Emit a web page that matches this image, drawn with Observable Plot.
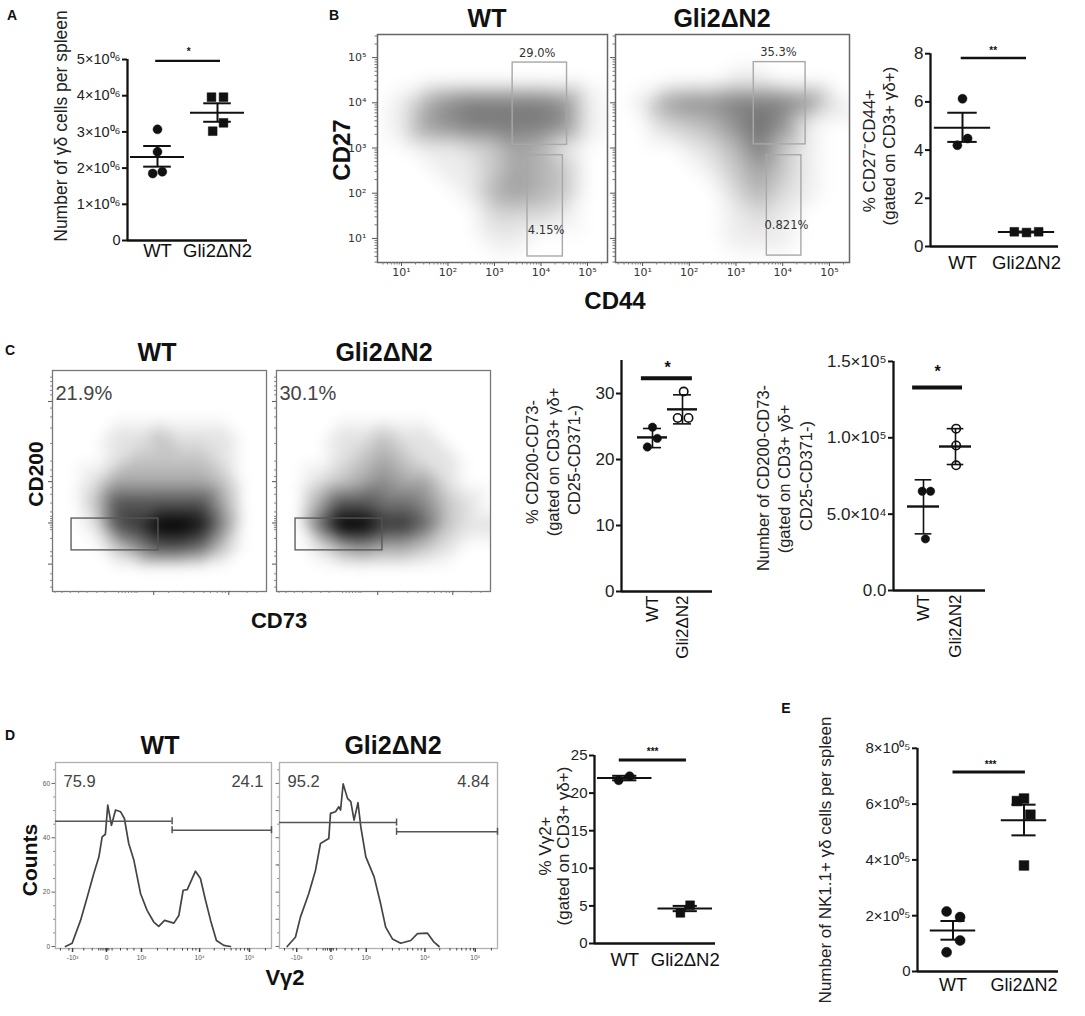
<!DOCTYPE html>
<html><head><meta charset="utf-8">
<script src="https://cdn.jsdelivr.net/npm/d3@7"></script>
<script src="https://cdn.jsdelivr.net/npm/@observablehq/plot@0.6"></script>
<style>
html,body{margin:0;padding:0;background:#fff;overflow:hidden;}
#fig{position:relative;width:1085px;height:1016px;overflow:hidden;background:#fff;font-family:"Liberation Sans",Arial,sans-serif;color:#111;}
.lbl{position:absolute;white-space:nowrap;line-height:1;}
</style></head>
<body><div id="fig"></div>
<script>
// ---------------- DATA ----------------
const groups = ["WT", "Gli2ΔN2"];

// Panel A: number of γδ cells per spleen
const aWT = [3.07e6, 2.45e6, 1.85e6, 1.90e6];
const aWTdx = [0, 0, -0.08, 0.08];
const aKO = [3.96e6, 3.96e6, 3.25e6, 3.02e6];
const aKOdx = [-0.1, 0.1, 0.1, -0.08];
const aMean = [2.31e6, 3.53e6];
const aLo = [2.04e6, 3.28e6];
const aHi = [2.61e6, 3.79e6];
const aSig = 4.96e6;
const aTicks = [0, 1e6, 2e6, 3e6, 4e6, 5e6];
const aTickText = ["0", "1×10⁰⁶", "2×10⁰⁶", "3×10⁰⁶", "4×10⁰⁶", "5×10⁰⁶"];

// Panel B right: % CD27-CD44+
const bWT = [6.13, 4.20, 4.48];
const bWTdx = [0, -0.08, 0.08];
const bKO = [0.61, 0.58, 0.61];
const bKOdx = [-0.19, 0, 0.19];
const bMean = [4.93, 0.60];
const bLo = [4.34, 0.58];
const bHi = [5.55, 0.62];
const bSig = 7.82;
const bTicks = [0, 2, 4, 6, 8];
const bTickText = ["0", "2", "4", "6", "8"];

// Panel B flow plots: density read on a half-decade grid (log10 CD44 columns, log10 CD27 rows, top to bottom)
const bCols = [0.5, 1, 1.5, 2, 2.5, 3, 3.5, 4, 4.5, 5, 5.5];
const bRowsY = [5.5, 5, 4.5, 4, 3.5, 3, 2.5, 2, 1.5, 1, 0.5];
const bDensWT = [
  "00000000000",
  "00000000000",
  "00000000000",
  "01467777610",
  "01567777610",
  "00112354100",
  "00011354300",
  "00001454300",
  "00000222100",
  "00000110000",
  "00000000000"];
const bDensKO = [
  "00000000000",
  "00000000000",
  "00000110000",
  "01566777620",
  "00234686100",
  "00012473100",
  "00001353100",
  "00000242100",
  "00000121000",
  "00000111000",
  "00000000000"];
const bGatesWT = [[3.39, 4.56, 3.07, 4.89], [3.71, 4.47, 0.60, 2.84]];
const bGatesKO = [[3.38, 4.49, 3.08, 4.90], [3.66, 4.40, 0.62, 2.84]];
const bLabelsWT = [["29.0%", 3.92, 5.09], ["4.15%", 4.11, 1.18]];
const bLabelsKO = [["35.3%", 3.91, 5.12], ["0.821%", 4.08, 1.29]];
const bDecades = [1, 2, 3, 4, 5];
const bDecadeText = ["10¹", "10²", "10³", "10⁴", "10⁵"];

// Panel C flow plots: density on a 10-unit grid (CD73 columns, CD200 rows top to bottom)
const cCols = [0, 10, 20, 30, 40, 50, 60, 70, 80, 90, 100];
const cRowsY = [100, 90, 80, 70, 60, 50, 40, 30, 20, 10, 0];
const cDensWT = [
  "00000000000",
  "00000000000",
  "00000000000",
  "00011211100",
  "00012222100",
  "00133333200",
  "00266666300",
  "00167998400",
  "00024665200",
  "00000000000",
  "00000000000"];
const cDensKO = [
  "00000000000",
  "00000000000",
  "00000000000",
  "00011211000",
  "00012321100",
  "00123433100",
  "00366554210",
  "00599775211",
  "00134332100",
  "00000000000",
  "00000000000"];
const cGate = [8.9, 49.5, 18.6, 33];
const cPctWT = "21.9%";
const cPctKO = "30.1%";
const cYMajor = [86, 49.7, 31, 12.4];
const cYMinor = [97, 95, 93, 91, 89, 83, 79, 74, 67, 59, 55, 52, 47, 44, 40, 36, 34, 33, 32, 30, 29, 28, 24, 18, 16, 8, 5, 2];
const cXMajor = [47.3, 82.4];
const cXMinor = [1.2, 4.4, 8.3, 12.2, 16.1, 20.7, 24.6, 30.9, 32.5, 34, 35.5, 37, 38.5, 39.5, 54.3, 61.3, 66, 70.7, 73.8, 76.9, 79.3, 80.8, 90.9, 95.6];

// Panel C middle: % CD200-CD73-
const cWT = [24.9, 21.9, 23.2];
const cWTdx = [0, -0.17, 0.16];
const cKO = [30.3, 26.3, 26.3];
const cKOdx = [0.04, -0.16, 0.2];
const cMean = [23.35, 27.6];
const cLo = [21.8, 25.4];
const cHi = [24.7, 29.8];
const cSig = 32.3;
const cTicks = [0, 10, 20, 30];
const cTickText = ["0", "10", "20", "30"];

// Panel C right: number of CD200-CD73-
const c2WT = [65000, 65000, 33800];
const c2WTdx = [-0.04, 0.22, 0.06];
const c2KO = [106000, 95000, 82000];
const c2KOdx = [0.02, 0.02, 0.02];
const c2Mean = [55000, 94300];
const c2Lo = [37100, 82500];
const c2Hi = [72500, 106000];
const c2Sig = 133000;
const c2Ticks = [0, 50000, 100000, 150000];
const c2TickText = ["0.0", "5.0×10⁴", "1.0×10⁵", "1.5×10⁵"];

// Panel D histograms (Vγ2 display units 0-100, counts)
const dWTx = [4.6, 7.7, 11.6, 14.7, 17.7, 20.1, 21.6, 23.1, 24.2, 25.9, 27.8, 30.1, 31.9, 33.9, 36.3, 39.4, 42.4, 45.5, 47.8, 50.5, 54.8, 57.1, 59.1, 61.0, 64.8, 67.1, 69.4, 71.8, 74.5, 77.9, 81.0];
const dWTy = [0, 1.2, 9.6, 18.2, 26.8, 33, 40.3, 41.3, 52, 44.6, 50.2, 49.6, 47.1, 37.9, 31.7, 19.4, 13.3, 9, 7.4, 9.6, 8.6, 11.4, 20.7, 20.9, 27.7, 25, 17.2, 9.6, 2.2, 0.4, 0];
const dKOx = [3.5, 7.3, 9.6, 13.4, 16.5, 18.8, 22.6, 23.4, 25.7, 27.2, 28.0, 29.2, 31.2, 32.7, 34.2, 36.0, 37.3, 39.6, 43.4, 46.4, 48.7, 51.8, 55.6, 60.2, 63.3, 67.9, 70.9, 73.2];
const dKOy = [0, 3.4, 10.8, 19.4, 28, 37.9, 39.7, 49, 49.6, 51.4, 50.2, 59.8, 54.5, 53.3, 46.5, 52.9, 44, 33, 25.6, 15.7, 7.1, 2.8, 1.2, 2.2, 4.7, 4.9, 1.6, 0];
const dGatesWT = [[0, 54, 46.1], [54, 100, 42.8]];
const dGatesKO = [[0, 53.7, 45.6], [53.7, 100, 42.2]];
const dPctWT = ["75.9", "24.1"];
const dPctKO = ["95.2", "4.84"];
const dXMajor = [7.9, 23.6, 39.8, 66.7, 89.8];
const dXMajorText = ["-10³", "0", "10³", "10⁴", "10⁵"];
const dXMinor = [2.3, 6.2, 13.1, 17, 20, 21, 22, 23, 24, 24.7, 26.2, 30.1, 33.2, 36.3, 47.2, 51.8, 54.9, 58.8, 61.1, 63.5, 65, 73.5, 78.2, 81.3, 83.6, 85.6, 87.5, 89, 97.2];
const dYMajor = [0, 20, 40, 60];
const dYMajorText = ["0", "20", "40", "60"];
const dYMinor = [5, 10, 15, 25, 30, 35, 45, 50, 55, 65];

// Panel D right: % Vγ2+
const vWT = [21.7, 22.25];
const vWTdx = [-0.1, 0.08];
const vKO = [4.07, 5.09];
const vKOdx = [-0.08, 0.08];
const vMean = [22.0, 4.65];
const vLo = [21.7, 4.3];
const vHi = [22.3, 5.0];
const vSig = 24.4;
const vTicks = [0, 5, 10, 15, 20, 25];
const vTickText = ["0", "5", "10", "15", "20", "25"];

// Panel E: NK1.1+ γδ cells per spleen
const eWT = [2.15e5, 1.95e5, 1.11e5, 0.69e5];
const eWTdx = [-0.09, 0.1, 0.1, -0.09];
const eKO = [6.11e5, 6.2e5, 5.62e5, 3.8e5];
const eKOdx = [-0.1, 0.0, 0.09, 0.0];
const eMean = [1.47e5, 5.42e5];
const eLo = [1.14e5, 4.88e5];
const eHi = [1.81e5, 5.98e5];
const eSig = 7.15e5;
const eTicks = [0, 2e5, 4e5, 6e5, 8e5];
const eTickText = ["0", "2×10⁰⁵", "4×10⁰⁵", "6×10⁰⁵", "8×10⁰⁵"];

// ---------------- HELPERS ----------------
const fig = document.getElementById("fig");
const ink = "#111";
const SANS = "'Liberation Sans', Arial, sans-serif";

function chart(frame, m, opts) {
  const width = frame.w + m[1] + m[3], height = frame.h + m[0] + m[2];
  const svg = Plot.plot({
    width, height,
    marginTop: m[0], marginRight: m[1], marginBottom: m[2], marginLeft: m[3],
    style: `background:transparent;overflow:visible;max-width:none;font-family:${SANS};color:#111;`,
    ...opts
  });
  const d = document.createElement("div");
  d.style.cssText = `position:absolute;left:${frame.x - m[3]}px;top:${frame.y - m[0]}px;width:${width}px;height:${height}px;`;
  d.appendChild(svg);
  fig.appendChild(d);
}

function label(text, x, y, o = {}) {
  const d = document.createElement("div");
  d.className = "lbl";
  d.textContent = text;
  d.style.left = x + "px";
  d.style.top = y + "px";
  d.style.fontSize = (o.size || 14) + "px";
  d.style.fontWeight = o.weight || "normal";
  d.style.color = o.color || "#111";
  d.style.transform = o.rotate ? "translate(-50%,-50%) rotate(-90deg)" : "translate(-50%,-50%)";
  fig.appendChild(d);
}

function dotPlot(s) {
  const stats = s.mean.map((m, g) => ({g: g + 1, m, lo: s.lo[g], hi: s.hi[g]}));
  const tickText = new Map(s.ticks.map((t, i) => [t, s.tickText[i]]));
  const dots = s.series.map((ser, g) => {
    const pts = ser.values.map((v, i) => ({x: g + 1 + ser.dx[i], y: v}));
    return Plot.dot(pts, {x: "x", y: "y", symbol: ser.symbol, r: ser.symbol === "square" ? s.r * 1.1 : s.r,
      fill: ser.open ? "white" : ink, stroke: ink, strokeWidth: ser.open ? 1.6 : 0.5});
  });
  const xAxis = Plot.axisX({ticks: [1, 2], tickFormat: d => groups[d - 1], tickSize: 0, label: null,
    fontSize: s.labelFont, tickPadding: s.labelPad, ...(s.rotate ? {tickRotate: -90} : {})});
  chart(s.frame, s.margins, {
    x: {type: "linear", domain: s.xDomain},
    y: {type: "linear", domain: s.yDomain},
    marks: [
      ...dots,
      Plot.ruleX(stats, {x: "g", y1: "lo", y2: "hi", stroke: ink, strokeWidth: s.errW}),
      Plot.ruleY(stats, {y: "lo", x1: d => d.g - s.errHW, x2: d => d.g + s.errHW, stroke: ink, strokeWidth: s.errW}),
      Plot.ruleY(stats, {y: "hi", x1: d => d.g - s.errHW, x2: d => d.g + s.errHW, stroke: ink, strokeWidth: s.errW}),
      Plot.ruleY(stats, {y: "m", x1: d => d.g - s.meanHW, x2: d => d.g + s.meanHW, stroke: ink, strokeWidth: s.meanW}),
      Plot.ruleY([s.sig.y], {x1: s.sig.x1, x2: s.sig.x2, stroke: ink, strokeWidth: s.sig.w}),
      Plot.text([s.sig.text], {x: s.sig.tx, y: s.sig.ty, text: d => d, fontSize: s.sig.size, fontWeight: "bold", fill: ink}),
      Plot.ruleX([s.xDomain[0]], {y1: 0, y2: s.yTop, stroke: ink, strokeWidth: 2.3}),
      Plot.ruleY([0], {x1: s.xDomain[0], x2: s.xDomain[1], stroke: ink, strokeWidth: 2.3}),
      Plot.axisY({ticks: s.ticks, tickFormat: d => tickText.get(d), tickSize: 5, strokeWidth: 2, tickPadding: 2, fontSize: s.tickFont, fill: "#222", label: null}),
      xAxis
    ]
  });
}

function densityMark(rows, cols, rowsY, tx, ty, blur) {
  const grid = [];
  rows.forEach((row, i) => [...row].forEach((c, j) => grid.push({gx: cols[j], gy: rowsY[i], v: +c})));
  if (typeof Plot.raster === "function") {
    return Plot.raster(grid, {x: d => tx(d.gx), y: d => ty(d.gy), fill: "v", interpolate: "barycentric", blur});
  }
  return Plot.dot(grid, {x: d => tx(d.gx), y: d => ty(d.gy), fill: "v", r: 8});
}

function flowB(frame, xDomExp, rows, gates, labels, showY) {
  const p = e => 10 ** e;
  const minors = [];
  for (let k = 0; k <= 5; k++) for (let m = 2; m <= 9; m++) minors.push(m * 10 ** k);
  const dText = new Map(bDecades.map((e, i) => [p(e), bDecadeText[i]]));
  chart(frame, [10, 10, 30, 50], {
    x: {type: "log", domain: [p(xDomExp[0]), p(xDomExp[1])]},
    y: {type: "log", domain: [p(0.467), p(5.511)]},
    color: {type: "linear", domain: [0, 8], range: ["#ffffff", "#6a6a6a"]},
    marks: [
      densityMark(rows, bCols, bRowsY, p, p, 7),
      Plot.rect(gates, {x1: d => p(d[0]), x2: d => p(d[1]), y1: d => p(d[2]), y2: d => p(d[3]), fill: "none", stroke: "#a8a8a8", strokeWidth: 1.4}),
      Plot.text(labels, {x: d => p(d[1]), y: d => p(d[2]), text: d => d[0], fontSize: 11.5, fontFamily: "DejaVu Sans", fill: "#333"}),
      Plot.frame({stroke: "#666", strokeWidth: 1.5}),
      Plot.axisY({ticks: bDecades.map(p), tickFormat: d => showY ? dText.get(d) : "", tickSize: 5, tickPadding: 6, stroke: "#555", fontSize: 11, fontFamily: "DejaVu Sans", fill: "#333", label: null}),
      Plot.axisY({ticks: minors.filter(v => v > p(0.467) && v < p(5.511)), tickFormat: () => "", tickSize: 2.5, stroke: "#777", label: null}),
      Plot.axisX({ticks: bDecades.map(p), tickFormat: d => dText.get(d), tickSize: 4, tickPadding: 2, stroke: "#555", fontSize: 11, fontFamily: "DejaVu Sans", fill: "#333", label: null}),
      Plot.axisX({ticks: minors.filter(v => v > p(xDomExp[0]) && v < p(xDomExp[1])), tickFormat: () => "", tickSize: 2.5, stroke: "#777", label: null})
    ]
  });
}

function flowC(frame, rows, pct) {
  const id = v => v;
  chart(frame, [10, 10, 20, 20], {
    x: {type: "linear", domain: [0, 100]},
    y: {type: "linear", domain: [0, 100]},
    color: {type: "linear", domain: [0, 9], range: ["#ffffff", "#000000"]},
    marks: [
      densityMark(rows, cCols, cRowsY, id, id, 5),
      Plot.rect([cGate], {x1: d => d[0], x2: d => d[1], y1: d => d[2], y2: d => d[3], fill: "none", stroke: "#555", strokeWidth: 1.3}),
      Plot.text([pct], {x: 1.4, y: 89.6, text: d => d, textAnchor: "start", fontSize: 20, fill: "#444"}),
      Plot.frame({stroke: "#777", strokeWidth: 1.3}),
      Plot.axisY({ticks: cYMajor, tickFormat: () => "", tickSize: 4, stroke: "#555", label: null}),
      Plot.axisY({ticks: cYMinor, tickFormat: () => "", tickSize: 2, stroke: "#888", label: null}),
      Plot.axisX({ticks: cXMajor, tickFormat: () => "", tickSize: 4, stroke: "#555", label: null}),
      Plot.axisX({ticks: cXMinor, tickFormat: () => "", tickSize: 2, stroke: "#888", label: null})
    ]
  });
}

function histD(frame, xs, ys, gates, pct, showY) {
  const pts = xs.map((x, i) => ({x, y: ys[i]}));
  const caps = [{x: gates[0][1], y: gates[0][2]}, {x: gates[1][0], y: gates[1][2]}, {x: gates[1][1], y: gates[1][2]}];
  const yText = new Map(dYMajor.map((v, i) => [v, dYMajorText[i]]));
  const xText = new Map(dXMajor.map((v, i) => [v, dXMajorText[i]]));
  chart(frame, [10, 10, 30, 30], {
    x: {type: "linear", domain: [0, 100]},
    y: {type: "linear", domain: [-0.74, 67.7]},
    marks: [
      Plot.frame({stroke: "#b0b0b0", strokeWidth: 1.3}),
      Plot.line(pts, {x: "x", y: "y", stroke: "#444", strokeWidth: 1.7}),
      Plot.ruleY(gates, {y: d => d[2], x1: d => d[0], x2: d => d[1], stroke: "#555", strokeWidth: 1.5}),
      Plot.ruleX(caps, {x: "x", y1: d => d.y - 1.3, y2: d => d.y + 1.3, stroke: "#555", strokeWidth: 1.5}),
      Plot.text([pct[0]], {x: 3.7, y: 60.6, text: d => d, textAnchor: "start", fontSize: 16.5, fill: "#444"}),
      Plot.text([pct[1]], {x: 96.3, y: 60.6, text: d => d, textAnchor: "end", fontSize: 16.5, fill: "#444"}),
      Plot.axisY({ticks: showY ? dYMajor : [0, 10, 20, 30, 40, 50, 60], tickFormat: d => showY ? yText.get(d) : "", tickSize: 3.5, tickPadding: 2, stroke: "#666", fontSize: 6.5, fill: "#555", label: null}),
      Plot.axisY({ticks: dYMinor, tickFormat: () => "", tickSize: 1.8, stroke: "#888", label: null}),
      Plot.axisX({ticks: dXMajor, tickFormat: d => xText.get(d), tickSize: 4, tickPadding: 3, stroke: "#444", strokeWidth: 1.5, fontSize: 6.5, fill: "#555", label: null}),
      Plot.axisX({ticks: dXMinor, tickFormat: () => "", tickSize: 2.5, stroke: "#444", label: null})
    ]
  });
}

// ---------------- PANEL A ----------------
dotPlot({
  frame: {x: 127, y: 45, w: 120, h: 195}, margins: [15, 15, 40, 75],
  xDomain: [0.5, 2.5], yDomain: [0, 5.387e6], yTop: 5e6,
  ticks: aTicks, tickText: aTickText, tickFont: 14.5, labelFont: 18.5, labelPad: 3,
  series: [{values: aWT, dx: aWTdx, symbol: "circle"}, {values: aKO, dx: aKOdx, symbol: "square"}],
  mean: aMean, lo: aLo, hi: aHi, meanHW: 0.45, errHW: 0.23, meanW: 2, errW: 2, r: 4.5,
  sig: {y: aSig, x1: 0.97, x2: 2.05, w: 2.2, text: "*", tx: 1.52, ty: 5.2e6, size: 10}
});

// ---------------- PANEL B ----------------
flowB({x: 377, y: 34, w: 230, h: 228}, [0.484, 5.43], bDensWT, bGatesWT, bLabelsWT, true);
flowB({x: 615, y: 34, w: 234, h: 228}, [0.42, 5.43], bDensKO, bGatesKO, bLabelsKO, false);
dotPlot({
  frame: {x: 930, y: 45, w: 128, h: 201}, margins: [15, 15, 40, 40],
  xDomain: [0.5, 2.5], yDomain: [0, 8.34], yTop: 8,
  ticks: bTicks, tickText: bTickText, tickFont: 17, labelFont: 18.5, labelPad: 9,
  series: [{values: bWT, dx: bWTdx, symbol: "circle"}, {values: bKO, dx: bKOdx, symbol: "square"}],
  mean: bMean, lo: bLo, hi: bHi, meanHW: 0.44, errHW: 0.23, meanW: 2, errW: 2, r: 4.5,
  sig: {y: bSig, x1: 0.98, x2: 2.0, w: 2.5, text: "**", tx: 1.48, ty: 8.13, size: 10}
});

// ---------------- PANEL C ----------------
flowC({x: 52, y: 370, w: 214, h: 221}, cDensWT, cPctWT);
flowC({x: 276, y: 370, w: 214, h: 221}, cDensKO, cPctKO);
dotPlot({
  frame: {x: 621, y: 355, w: 91, h: 236}, margins: [15, 15, 90, 40],
  xDomain: [-0.033, 3.0], yDomain: [0, 35.76], yTop: 35,
  ticks: cTicks, tickText: cTickText, tickFont: 17, labelFont: 17, labelPad: 4, rotate: true,
  series: [{values: cWT, dx: cWTdx, symbol: "circle"}, {values: cKO, dx: cKOdx, symbol: "circle", open: true}],
  mean: cMean, lo: cLo, hi: cHi, meanHW: 0.5, errHW: 0.3, meanW: 2.4, errW: 1.6, r: 4.2,
  sig: {y: cSig, x1: 0.63, x2: 2.33, w: 4, text: "*", tx: 1.5, ty: 33.9, size: 16}
});
dotPlot({
  frame: {x: 893, y: 355, w: 92, h: 235}, margins: [15, 15, 90, 80],
  xDomain: [0.0625, 2.9375], yDomain: [0, 153900], yTop: 150000,
  ticks: c2Ticks, tickText: c2TickText, tickFont: 17, labelFont: 17, labelPad: 4, rotate: true,
  series: [{values: c2WT, dx: c2WTdx, symbol: "circle"}, {values: c2KO, dx: c2KOdx, symbol: "circle", open: true}],
  mean: c2Mean, lo: c2Lo, hi: c2Hi, meanHW: 0.5, errHW: 0.26, meanW: 2.4, errW: 1.6, r: 4.2,
  sig: {y: c2Sig, x1: 0.66, x2: 2.22, w: 4, text: "*", tx: 1.44, ty: 143000, size: 16}
});

// ---------------- PANEL D ----------------
histD({x: 55, y: 762, w: 216, h: 186}, dWTx, dWTy, dGatesWT, dPctWT, true);
histD({x: 279, y: 762, w: 218, h: 186}, dKOx, dKOy, dGatesKO, dPctKO, false);
dotPlot({
  frame: {x: 594, y: 745, w: 121, h: 198}, margins: [15, 15, 40, 40],
  xDomain: [0.5, 2.5], yDomain: [0, 26.33], yTop: 25,
  ticks: vTicks, tickText: vTickText, tickFont: 15, labelFont: 18.5, labelPad: 9,
  series: [{values: vWT, dx: vWTdx, symbol: "circle"}, {values: vKO, dx: vKOdx, symbol: "square"}],
  mean: vMean, lo: vLo, hi: vHi, meanHW: 0.45, errHW: 0.2, meanW: 2, errW: 2, r: 4.5,
  sig: {y: vSig, x1: 0.91, x2: 2.02, w: 3, text: "***", tx: 1.46, ty: 25.5, size: 10}
});

// ---------------- PANEL E ----------------
dotPlot({
  frame: {x: 917, y: 740, w: 141, h: 231}, margins: [15, 15, 40, 75],
  xDomain: [0.5, 2.486], yDomain: [0, 8.28e5], yTop: 8e5,
  ticks: eTicks, tickText: eTickText, tickFont: 15, labelFont: 18, labelPad: 7,
  series: [{values: eWT, dx: eWTdx, symbol: "circle"}, {values: eKO, dx: eKOdx, symbol: "square"}],
  mean: eMean, lo: eLo, hi: eHi, meanHW: 0.32, errHW: 0.17, meanW: 2, errW: 2, r: 5,
  sig: {y: eSig, x1: 1.0, x2: 2.02, w: 3, text: "***", tx: 1.53, ty: 7.42e5, size: 10}
});

// ---------------- TEXT ----------------
label("A", 12, 15, {size: 14, weight: "bold"});
label("B", 334, 15, {size: 14, weight: "bold"});
label("C", 10, 350, {size: 14, weight: "bold"});
label("D", 10, 735, {size: 14, weight: "bold"});
label("E", 786, 708, {size: 14, weight: "bold"});

label("WT", 487, 18, {size: 25, weight: "bold"});
label("Gli2ΔN2", 722, 18, {size: 25, weight: "bold"});
label("WT", 157, 352, {size: 25, weight: "bold"});
label("Gli2ΔN2", 384, 352, {size: 25, weight: "bold"});
label("WT", 160, 745, {size: 25, weight: "bold"});
label("Gli2ΔN2", 393, 745, {size: 25, weight: "bold"});

label("CD27", 342, 150, {size: 24, weight: "bold", rotate: true});
label("CD44", 615, 301, {size: 24, weight: "bold"});
label("CD200", 35, 474, {size: 21, weight: "bold", rotate: true});
label("CD73", 279, 621, {size: 22, weight: "bold"});
label("Counts", 29, 860, {size: 21, weight: "bold", rotate: true});
label("Vγ2", 285, 978, {size: 22, weight: "bold"});

label("Number of γδ cells per spleen", 62, 126, {size: 17.5, rotate: true, color: "#222"});
label("% CD27⁻CD44+", 869, 151, {size: 17, rotate: true, color: "#222"});
label("(gated on CD3+ γδ+)", 889, 146, {size: 17, rotate: true, color: "#222"});
label("% CD200-CD73-", 532, 462, {size: 16.5, rotate: true, color: "#222"});
label("(gated on CD3+ γδ+", 553, 462, {size: 16.5, rotate: true, color: "#222"});
label("CD25-CD371-)", 574, 460, {size: 16.5, rotate: true, color: "#222"});
label("Number of CD200-CD73-", 763, 478, {size: 16.5, rotate: true, color: "#222"});
label("(gated on CD3+ γδ+", 784, 479, {size: 16.5, rotate: true, color: "#222"});
label("CD25-CD371-)", 806, 476, {size: 16.5, rotate: true, color: "#222"});
label("% Vγ2+", 545, 846, {size: 17, rotate: true, color: "#222"});
label("(gated on CD3+ γδ+)", 563, 846, {size: 17, rotate: true, color: "#222"});
label("Number of NK1.1+ γδ cells per spleen", 825, 860, {size: 17, rotate: true, color: "#222"});
</script></body></html>
